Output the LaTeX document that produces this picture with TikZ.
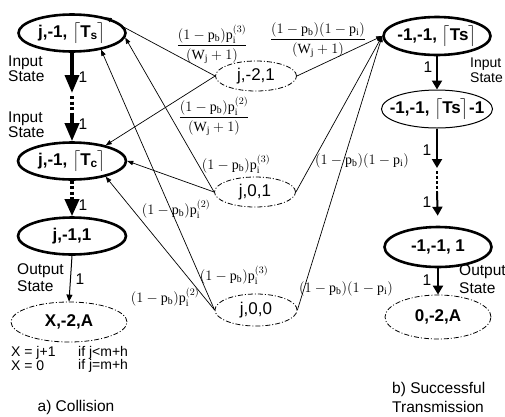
\documentclass[tikz,border=0pt]{standalone}
\usepackage{amsmath}
\usepackage{fontspec}
\setmainfont{Liberation Serif}
\setsansfont{Liberation Sans}
\usetikzlibrary{arrows.meta,shapes.geometric}
\newcommand\nf[1]{\fontsize{#1}{#1}\selectfont}
\newcommand\zb[1]{\makebox[0pt][c]{#1}}
\newcommand\pb{\mathrm{p}_{\mathrm{b}}}
\newcommand\pis[1]{\mathrm{p}_{\mathrm{i}}^{(#1)}}
\newcommand\pii{\mathrm{p}_{\mathrm{i}}}
\newcommand\wj{(\mathrm{W}_{\mathrm{j}}+1)}
\tikzset{
 thk/.style={ellipse,draw,line width=2.6pt,minimum width=107pt,minimum height=37pt,inner sep=0pt,font=\sffamily\bfseries\boldmath\nf{17}},
 thn/.style={thk,line width=1pt},
 dd/.style={ellipse,draw,line width=0.8pt,dash pattern=on 5pt off 2pt on 1pt off 2pt,inner sep=0pt},
 mid/.style={dd,font=\sffamily\nf{17},minimum width=81pt,minimum height=30pt},
 dstate/.style={dd,font=\sffamily\bfseries\nf{17}},
 lbl/.style={font=\sffamily\nf{15.5},inner sep=0pt,align=left},
 cond/.style={font=\sffamily\nf{14},inner sep=0pt,anchor=west},
 prob/.style={font=\nf{14},inner sep=0pt},
 tr/.style={-{Triangle[length=6pt,width=4.5pt]},line width=0.7pt},
 bigarr/.style={-{Triangle[length=18pt,width=14pt]},line width=3.5pt},
 bigdot/.style={line width=3.5pt,dash pattern=on 3pt off 2.5pt},
 medarr/.style={-{Triangle[length=9pt,width=10pt]},line width=2pt},
 meddot/.style={line width=2.5pt,dash pattern=on 3pt off 2pt},
 smarr/.style={-{Triangle[length=7pt,width=6pt]},line width=1pt},
}
\begin{document}
\begin{tikzpicture}[x=1pt,y=-1pt]
\useasboundingbox (0,0) rectangle (505,416);
% left column
\node[thk] (A1) at (72,33) {\zb{j,-1, $\bigl\lceil$T\textsubscript{s}$\bigr\rceil$}};
\node[thk,minimum width=108pt] (A2) at (72,161) {\zb{j,-1, $\bigl\lceil$T\textsubscript{c}$\bigr\rceil$}};
\node[thk,minimum width=108pt] (A3) at (72,236) {\zb{j,-1,1}};
\node[dstate,minimum width=116pt,minimum height=40pt] (A4) at (69,322) {\zb{X,-2,A}};
% middle
\node[mid] (M1) at (256,76) {\zb{j,-2,1}};
\node[mid] (M2) at (255,192) {\zb{j,0,1}};
\node[mid,minimum width=82pt,minimum height=32pt] (M3) at (256,310) {\zb{j,0,0}};
% right column
\node[thk,minimum height=38pt] (R1) at (437,36) {\zb{-1,-1, $\bigl\lceil$Ts$\bigr\rceil$}};
\node[thn,minimum width=111pt,minimum height=38pt] (R2) at (437,109) {\zb{-1,-1, $\bigl\lceil$Ts$\bigr\rceil$-1}};
\node[thk,minimum height=40pt] (R3) at (438,247) {\zb{-1,-1, 1}};
\node[dstate,minimum width=106pt,minimum height=44pt] (R4) at (438,317) {\zb{0,-2,A}};
% left chain
\coordinate (a1) at (72,93);
\coordinate (a1b) at (72,96);
\coordinate (a2) at (72,114);
\coordinate (a3) at (72,200);
\draw[bigarr] (A1.south) -- (a1);
\draw[bigdot] (a1b) -- (a2);
\draw[bigarr] (a2) -- (A2.north);
\draw[bigdot] (A2.south) -- (a3);
\draw[-{Triangle[length=17pt,width=14pt]},line width=3.5pt] (a3) -- (A3.north);
\draw[smarr] (A3.south) -- (A4.north);
% right chain
\coordinate (r1) at (437,168);
\coordinate (r1b) at (437,171);
\coordinate (r2) at (437,192);
\draw[medarr] (R1.south) -- (R2.north);
\draw[medarr] (R2.south) -- (r1);
\draw[meddot] (r1b) -- (r2);
\draw[medarr,shorten >=10pt] (r2) -- (R3.north);
\draw[medarr] (R3.south) -- (R4.north);
% transitions
\draw[tr] (M1.west) -- (A1.25);
\draw[tr] (M1.west) -- (A2.25);
\draw[tr] (M1.east) -- (R1.west);
\draw[tr] (M2.west) -- (A1.-5);
\draw[tr] (M2.west) -- (A2.east);
\draw[tr] (M2.east) -- (R1.west);
\draw[tr] (M3.west) -- (A1.-30);
\draw[tr] (M3.west) -- (A2.-25);
\draw[tr] (M3.east) -- (R1.west);
% probability labels
\node[prob] (L1) at (212,44) {$\dfrac{(1-\pb)\pis{3}}{\wj}$};
\node[prob] (L2) at (214,116) {$\dfrac{(1-\pb)\pis{2}}{\wj}$};
\node[prob] (L3) at (318,40) {$\dfrac{(1-\pb)(1-\pii)}{\wj}$};
\node[prob] (L4) at (236,164) {$(1-\pb)\pis{3}$};
\node[prob] (L5) at (176,209) {$(1-\pb)\pis{2}$};
\node[prob] (L6) at (362,161) {$(1-\pb)(1-\pii)$};
\node[prob] (L7) at (234,275) {$(1-\pb)\pis{3}$};
\node[prob] (L8) at (165,297) {$(1-\pb)\pis{2}$};
\node[prob] (L9) at (346,289) {$(1-\pb)(1-\pii)$};
% ones
\node[lbl] (o1) at (83,77) {1};
\node[lbl] (o2) at (83,124) {1};
\node[lbl] (o3) at (83,205) {1};
\node[lbl] (o4) at (80,279) {1};
\node[lbl] (o5) at (428,67) {1};
\node[lbl] (o6) at (427,150) {1};
\node[lbl] (o7) at (427,202) {1};
\node[lbl] (o8) at (427,280) {1};
% state labels
\node[lbl,anchor=west] (i1) at (8,68.5) {Input\\[0pt]State};
\node[lbl,anchor=west] (i2) at (8,124.5) {Input\\[0pt]State};
\node[lbl,anchor=west] (i3) at (17,277.5) {Output\\[2pt]State};
\node[lbl,anchor=west,font=\sffamily\nf{14}] (i4) at (470,70.5) {Input\\[1pt]State};
\node[lbl,anchor=west] (i5) at (459,279) {Output\\[2pt]State};
% conditions
\node[cond] (c1) at (11,353) {X = j+1};
\node[cond] (c2) at (78,353) {if j<m+h};
\node[cond] (c3) at (11,366) {X = 0};
\node[cond] (c4) at (78,366) {if j=m+h};
% captions
\node[lbl] (capa) at (76,407) {a) Collision};
\node[lbl,anchor=west] (capb) at (392,397.5) {b) Successful\\[3pt]Transmission};
\end{tikzpicture}
\end{document}
